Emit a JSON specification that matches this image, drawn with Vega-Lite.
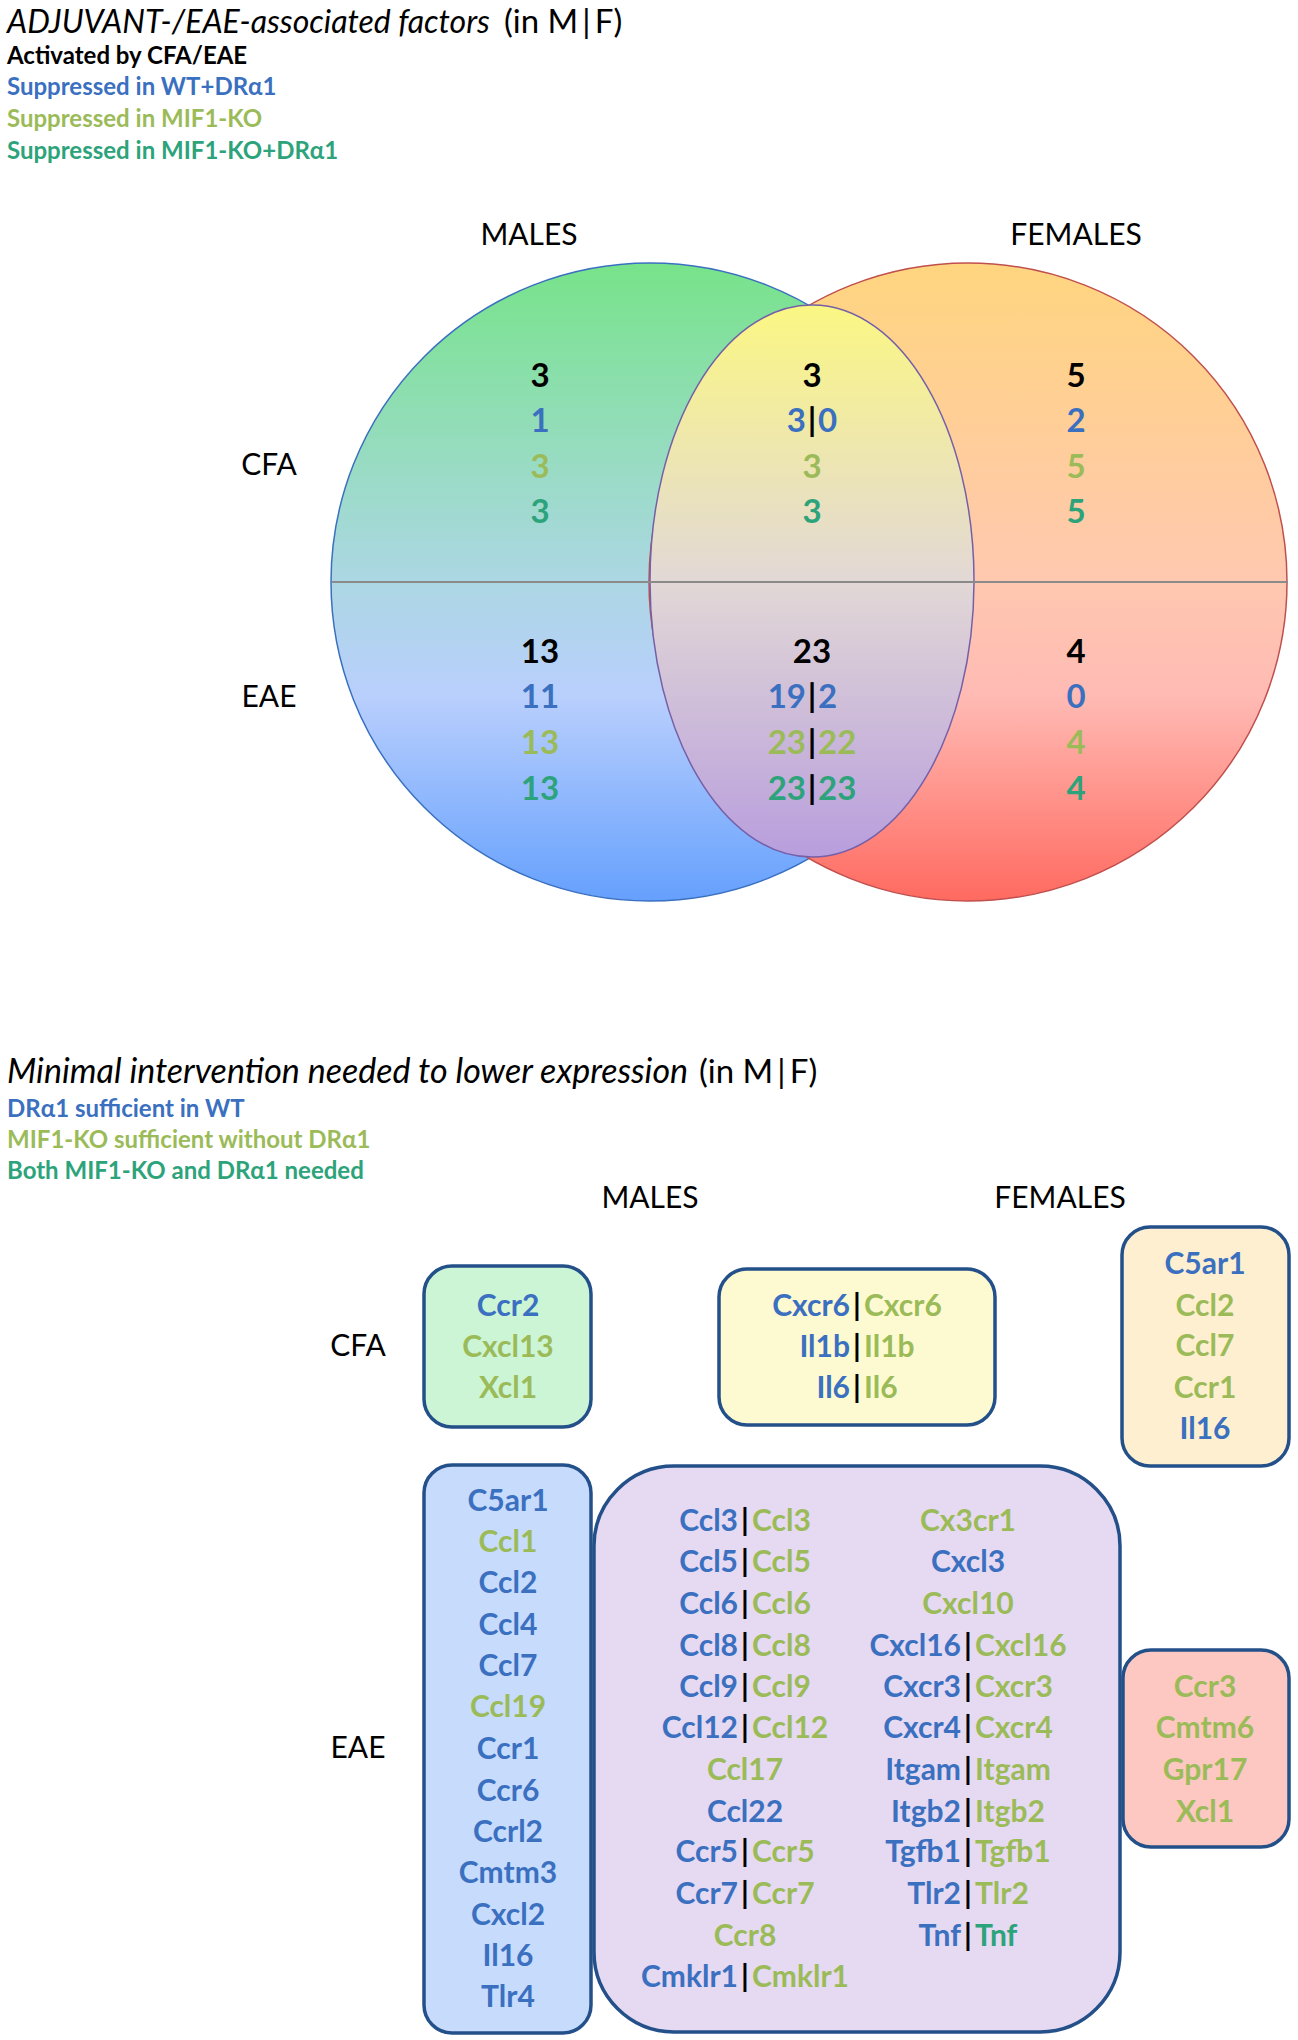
{
  "$schema": "https://vega.github.io/schema/vega-lite/v6.json",
  "width": 1298,
  "height": 2040,
  "autosize": {"type": "fit", "contains": "padding"},
  "padding": 0,
  "background": "white",
  "config": {"view": {"stroke": null}},
  "datasets": {
    "venn": [
      {"set": "M", "x": 650, "y": 582},
      {"set": "F", "x": 968, "y": 582},
      {"set": "MF", "x": 812, "y": 581}
    ],
    "titles": [
      {"x": 7, "y": 23, "t": "ADJUVANT-/EAE-associated factors", "s": "it1"},
      {"x": 504, "y": 23, "t": "(in M\u2009|\u2009F)", "s": "reg"},
      {"x": 7, "y": 1073, "t": "Minimal intervention needed to lower expression", "s": "it2"},
      {"x": 699, "y": 1073, "t": "(in M\u2009|\u2009F)", "s": "reg"}
    ],
    "legend": [
      {"x": 7, "y": 57, "t": "Activated by CFA/EAE", "c": "act"},
      {"x": 7, "y": 88, "t": "Suppressed in WT+DRα1", "c": "wt"},
      {"x": 7, "y": 120, "t": "Suppressed in MIF1-KO", "c": "ko"},
      {"x": 7, "y": 152, "t": "Suppressed in MIF1-KO+DRα1", "c": "both"},
      {"x": 7, "y": 1110, "t": "DRα1 sufficient in WT", "c": "wt"},
      {"x": 7, "y": 1141, "t": "MIF1-KO sufficient without DRα1", "c": "ko"},
      {"x": 7, "y": 1172, "t": "Both MIF1-KO and DRα1 needed", "c": "both"}
    ],
    "headers": [
      {"x": 529, "y": 236, "t": "MALES"},
      {"x": 1076, "y": 236, "t": "FEMALES"},
      {"x": 269, "y": 466, "t": "CFA"},
      {"x": 269, "y": 698, "t": "EAE"},
      {"x": 650, "y": 1199, "t": "MALES"},
      {"x": 1060, "y": 1199, "t": "FEMALES"},
      {"x": 358, "y": 1347, "t": "CFA"},
      {"x": 358, "y": 1749, "t": "EAE"}
    ],
    "nums": [
      {"x": 540, "y": 377, "t": "3", "c": "act"},
      {"x": 540, "y": 422, "t": "1", "c": "wt"},
      {"x": 540, "y": 468, "t": "3", "c": "ko"},
      {"x": 540, "y": 513, "t": "3", "c": "both"},
      {"x": 812, "y": 377, "t": "3", "c": "act"},
      {"x": 812, "y": 468, "t": "3", "c": "ko"},
      {"x": 812, "y": 513, "t": "3", "c": "both"},
      {"x": 1076, "y": 377, "t": "5", "c": "act"},
      {"x": 1076, "y": 422, "t": "2", "c": "wt"},
      {"x": 1076, "y": 468, "t": "5", "c": "ko"},
      {"x": 1076, "y": 513, "t": "5", "c": "both"},
      {"x": 540, "y": 653, "t": "13", "c": "act"},
      {"x": 540, "y": 698, "t": "11", "c": "wt"},
      {"x": 540, "y": 744, "t": "13", "c": "ko"},
      {"x": 540, "y": 790, "t": "13", "c": "both"},
      {"x": 812, "y": 653, "t": "23", "c": "act"},
      {"x": 1076, "y": 653, "t": "4", "c": "act"},
      {"x": 1076, "y": 698, "t": "0", "c": "wt"},
      {"x": 1076, "y": 744, "t": "4", "c": "ko"},
      {"x": 1076, "y": 790, "t": "4", "c": "both"}
    ],
    "numPairs": [
      {"x": 812, "y": 422, "l": "3", "r": "0", "lc": "wt", "rc": "wt"},
      {"x": 812, "y": 698, "l": "19", "r": "2", "lc": "wt", "rc": "wt"},
      {"x": 812, "y": 744, "l": "23", "r": "22", "lc": "ko", "rc": "ko"},
      {"x": 812, "y": 790, "l": "23", "r": "23", "lc": "both", "rc": "both"}
    ],
    "boxes": [
      {"box": "mc", "x": 424, "x2": 591, "y": 1266, "y2": 1427},
      {"box": "cc", "x": 719, "x2": 995, "y": 1269, "y2": 1425},
      {"box": "fc", "x": 1122, "x2": 1289, "y": 1227, "y2": 1466},
      {"box": "me", "x": 424, "x2": 591, "y": 1465, "y2": 2033},
      {"box": "ce", "x": 594, "x2": 1120, "y": 1466, "y2": 2032},
      {"box": "fe", "x": 1123, "x2": 1289, "y": 1650, "y2": 1847}
    ],
    "genes": [
      {"x": 508, "y": 1307, "t": "Ccr2", "c": "wt"},
      {"x": 508, "y": 1348, "t": "Cxcl13", "c": "ko"},
      {"x": 508, "y": 1389, "t": "Xcl1", "c": "ko"},
      {"x": 1205, "y": 1265, "t": "C5ar1", "c": "wt"},
      {"x": 1205, "y": 1307, "t": "Ccl2", "c": "ko"},
      {"x": 1205, "y": 1347, "t": "Ccl7", "c": "ko"},
      {"x": 1205, "y": 1389, "t": "Ccr1", "c": "ko"},
      {"x": 1205, "y": 1430, "t": "Il16", "c": "wt"},
      {"x": 508, "y": 1502, "t": "C5ar1", "c": "wt"},
      {"x": 508, "y": 1543, "t": "Ccl1", "c": "ko"},
      {"x": 508, "y": 1584, "t": "Ccl2", "c": "wt"},
      {"x": 508, "y": 1626, "t": "Ccl4", "c": "wt"},
      {"x": 508, "y": 1667, "t": "Ccl7", "c": "wt"},
      {"x": 508, "y": 1708, "t": "Ccl19", "c": "ko"},
      {"x": 508, "y": 1750, "t": "Ccr1", "c": "wt"},
      {"x": 508, "y": 1792, "t": "Ccr6", "c": "wt"},
      {"x": 508, "y": 1833, "t": "Ccrl2", "c": "wt"},
      {"x": 508, "y": 1874, "t": "Cmtm3", "c": "wt"},
      {"x": 508, "y": 1916, "t": "Cxcl2", "c": "wt"},
      {"x": 508, "y": 1957, "t": "Il16", "c": "wt"},
      {"x": 508, "y": 1998, "t": "Tlr4", "c": "wt"},
      {"x": 745, "y": 1771, "t": "Ccl17", "c": "ko"},
      {"x": 745, "y": 1813, "t": "Ccl22", "c": "wt"},
      {"x": 745, "y": 1937, "t": "Ccr8", "c": "ko"},
      {"x": 968, "y": 1522, "t": "Cx3cr1", "c": "ko"},
      {"x": 968, "y": 1563, "t": "Cxcl3", "c": "wt"},
      {"x": 968, "y": 1605, "t": "Cxcl10", "c": "ko"},
      {"x": 1205, "y": 1688, "t": "Ccr3", "c": "ko"},
      {"x": 1205, "y": 1729, "t": "Cmtm6", "c": "ko"},
      {"x": 1205, "y": 1771, "t": "Gpr17", "c": "ko"},
      {"x": 1205, "y": 1813, "t": "Xcl1", "c": "ko"}
    ],
    "genePairs": [
      {"x": 857, "y": 1307, "l": "Cxcr6", "r": "Cxcr6", "lc": "wt", "rc": "ko"},
      {"x": 857, "y": 1348, "l": "Il1b", "r": "Il1b", "lc": "wt", "rc": "ko"},
      {"x": 857, "y": 1389, "l": "Il6", "r": "Il6", "lc": "wt", "rc": "ko"},
      {"x": 745, "y": 1522, "l": "Ccl3", "r": "Ccl3", "lc": "wt", "rc": "ko"},
      {"x": 745, "y": 1563, "l": "Ccl5", "r": "Ccl5", "lc": "wt", "rc": "ko"},
      {"x": 745, "y": 1605, "l": "Ccl6", "r": "Ccl6", "lc": "wt", "rc": "ko"},
      {"x": 745, "y": 1647, "l": "Ccl8", "r": "Ccl8", "lc": "wt", "rc": "ko"},
      {"x": 745, "y": 1688, "l": "Ccl9", "r": "Ccl9", "lc": "wt", "rc": "ko"},
      {"x": 745, "y": 1729, "l": "Ccl12", "r": "Ccl12", "lc": "wt", "rc": "ko"},
      {"x": 745, "y": 1853, "l": "Ccr5", "r": "Ccr5", "lc": "wt", "rc": "ko"},
      {"x": 745, "y": 1895, "l": "Ccr7", "r": "Ccr7", "lc": "wt", "rc": "ko"},
      {"x": 745, "y": 1978, "l": "Cmklr1", "r": "Cmklr1", "lc": "wt", "rc": "ko"},
      {"x": 968, "y": 1647, "l": "Cxcl16", "r": "Cxcl16", "lc": "wt", "rc": "ko"},
      {"x": 968, "y": 1688, "l": "Cxcr3", "r": "Cxcr3", "lc": "wt", "rc": "ko"},
      {"x": 968, "y": 1729, "l": "Cxcr4", "r": "Cxcr4", "lc": "wt", "rc": "ko"},
      {"x": 968, "y": 1771, "l": "Itgam", "r": "Itgam", "lc": "wt", "rc": "ko"},
      {"x": 968, "y": 1813, "l": "Itgb2", "r": "Itgb2", "lc": "wt", "rc": "ko"},
      {"x": 968, "y": 1853, "l": "Tgfb1", "r": "Tgfb1", "lc": "wt", "rc": "ko"},
      {"x": 968, "y": 1895, "l": "Tlr2", "r": "Tlr2", "lc": "wt", "rc": "ko"},
      {"x": 968, "y": 1937, "l": "Tnf", "r": "Tnf", "lc": "wt", "rc": "both"}
    ]
  },
  "encoding": {
    "x": {"field": "x", "type": "quantitative", "scale": {"domain": [0, 1298], "nice": false, "zero": false}, "axis": null},
    "y": {"field": "y", "type": "quantitative", "scale": {"domain": [0, 2040], "nice": false, "zero": false, "reverse": true}, "axis": null}
  },
  "layer": [
    {
      "data": {"name": "venn"},
      "transform": [{"filter": "datum.set == 'M'"}],
      "mark": {"type": "point", "shape": "circle", "filled": true, "size": 407044, "opacity": 1, "strokeWidth": 1.5, "stroke": "#3a70c0",
        "fill": {"gradient": "linear", "x1": 0, "y1": 0, "x2": 0, "y2": 1, "stops": [
          {"offset": 0, "color": "#77e38a"}, {"offset": 0.5, "color": "#acd7e4"}, {"offset": 0.68, "color": "#b9cffd"}, {"offset": 1, "color": "#65a0fd"}]}}
    },
    {
      "data": {"name": "venn"},
      "transform": [{"filter": "datum.set == 'F'"}],
      "mark": {"type": "point", "shape": "circle", "filled": true, "size": 407044, "opacity": 1, "strokeWidth": 1.5, "stroke": "#c0504d",
        "fill": {"gradient": "linear", "x1": 0, "y1": 0, "x2": 0, "y2": 1, "stops": [
          {"offset": 0, "color": "#ffd57f"}, {"offset": 0.5, "color": "#ffc8b0"}, {"offset": 0.68, "color": "#ffbab4"}, {"offset": 1, "color": "#ff6a60"}]}}
    },
    {
      "data": {"name": "venn"},
      "transform": [{"filter": "datum.set == 'MF'"}],
      "mark": {"type": "point", "shape": "M -0.587 0 A 0.587 1 0 1 1 0.587 0 A 0.587 1 0 1 1 -0.587 0 Z", "filled": true, "size": 304704, "opacity": 1, "strokeWidth": 1.5, "stroke": "#7560a8",
        "fill": {"gradient": "linear", "x1": 0, "y1": 0, "x2": 0, "y2": 1, "stops": [
          {"offset": 0, "color": "#fbf783"}, {"offset": 0.5, "color": "#e2d8d6"}, {"offset": 1, "color": "#b89edd"}]}}
    },
    {
      "data": {"values": [{"x": 332, "x2": 1288, "y": 582}]},
      "mark": {"type": "rule", "color": "#8a8a8a", "strokeWidth": 2},
      "encoding": {"x2": {"field": "x2"}}
    },
    {
      "data": {"name": "titles"},
      "transform": [{"filter": "datum.s == 'it1'"}],
      "mark": {"type": "text", "font": "Lato", "fontStyle": "italic", "fontSize": 32, "align": "left", "baseline": "middle", "color": "black"},
      "encoding": {"text": {"field": "t"}}
    },
    {
      "data": {"name": "titles"},
      "transform": [{"filter": "datum.s == 'it2'"}],
      "mark": {"type": "text", "font": "Lato", "fontStyle": "italic", "fontSize": 34, "align": "left", "baseline": "middle", "color": "black"},
      "encoding": {"text": {"field": "t"}}
    },
    {
      "data": {"name": "titles"},
      "transform": [{"filter": "datum.s == 'reg'"}],
      "mark": {"type": "text", "font": "Lato", "fontSize": 33, "align": "left", "baseline": "middle", "color": "black"},
      "encoding": {"text": {"field": "t"}}
    },
    {
      "data": {"name": "legend"},
      "mark": {"type": "text", "font": "Lato", "fontWeight": "bold", "fontSize": 24, "align": "left", "baseline": "middle"},
      "encoding": {"text": {"field": "t"},
        "color": {"field": "c", "type": "nominal", "legend": null, "scale": {"domain": ["act", "wt", "ko", "both"], "range": ["#000000", "#3a70bf", "#9bbb59", "#2ca37a"]}}}
    },
    {
      "data": {"name": "headers"},
      "mark": {"type": "text", "font": "Lato", "fontSize": 30, "align": "center", "baseline": "middle", "color": "black"},
      "encoding": {"text": {"field": "t"}}
    },
    {
      "data": {"name": "nums"},
      "mark": {"type": "text", "font": "Lato", "fontWeight": "bold", "fontSize": 33, "align": "center", "baseline": "middle"},
      "encoding": {"text": {"field": "t"},
        "color": {"field": "c", "type": "nominal", "legend": null, "scale": {"domain": ["act", "wt", "ko", "both"], "range": ["#000000", "#3a70bf", "#9bbb59", "#2ca37a"]}}}
    },
    {
      "data": {"name": "numPairs"},
      "mark": {"type": "text", "font": "Lato", "fontWeight": "bold", "fontSize": 33, "align": "right", "baseline": "middle", "dx": -6},
      "encoding": {"text": {"field": "l"},
        "color": {"field": "lc", "type": "nominal", "legend": null, "scale": {"domain": ["act", "wt", "ko", "both"], "range": ["#000000", "#3a70bf", "#9bbb59", "#2ca37a"]}}}
    },
    {
      "data": {"name": "numPairs"},
      "mark": {"type": "text", "font": "Lato", "fontWeight": "bold", "fontSize": 33, "align": "left", "baseline": "middle", "dx": 6},
      "encoding": {"text": {"field": "r"},
        "color": {"field": "rc", "type": "nominal", "legend": null, "scale": {"domain": ["act", "wt", "ko", "both"], "range": ["#000000", "#3a70bf", "#9bbb59", "#2ca37a"]}}}
    },
    {
      "data": {"name": "numPairs"},
      "mark": {"type": "text", "font": "Lato", "fontWeight": "bold", "fontSize": 33, "align": "center", "baseline": "middle", "text": "|", "color": "black"}
    },
    {
      "data": {"name": "boxes"},
      "transform": [{"filter": "datum.box != 'ce'"}],
      "mark": {"type": "rect", "cornerRadius": 28, "stroke": "#24508a", "strokeWidth": 3.5},
      "encoding": {"x2": {"field": "x2"}, "y2": {"field": "y2"},
        "fill": {"field": "box", "type": "nominal", "legend": null, "scale": {"domain": ["mc", "cc", "fc", "me", "ce", "fe"], "range": ["#ccf5d6", "#fdfad2", "#fdefd0", "#c7dbfd", "#e6d9f2", "#fdc8c1"]}}}
    },
    {
      "data": {"name": "boxes"},
      "transform": [{"filter": "datum.box == 'ce'"}],
      "mark": {"type": "rect", "cornerRadius": 80, "stroke": "#24508a", "strokeWidth": 3.5},
      "encoding": {"x2": {"field": "x2"}, "y2": {"field": "y2"},
        "fill": {"field": "box", "type": "nominal", "legend": null, "scale": {"domain": ["mc", "cc", "fc", "me", "ce", "fe"], "range": ["#ccf5d6", "#fdfad2", "#fdefd0", "#c7dbfd", "#e6d9f2", "#fdc8c1"]}}}
    },
    {
      "data": {"name": "genes"},
      "mark": {"type": "text", "font": "Lato", "fontWeight": "bold", "fontSize": 30, "align": "center", "baseline": "middle"},
      "encoding": {"text": {"field": "t"},
        "color": {"field": "c", "type": "nominal", "legend": null, "scale": {"domain": ["act", "wt", "ko", "both"], "range": ["#000000", "#3a70bf", "#9bbb59", "#2ca37a"]}}}
    },
    {
      "data": {"name": "genePairs"},
      "mark": {"type": "text", "font": "Lato", "fontWeight": "bold", "fontSize": 30, "align": "right", "baseline": "middle", "dx": -7},
      "encoding": {"text": {"field": "l"},
        "color": {"field": "lc", "type": "nominal", "legend": null, "scale": {"domain": ["act", "wt", "ko", "both"], "range": ["#000000", "#3a70bf", "#9bbb59", "#2ca37a"]}}}
    },
    {
      "data": {"name": "genePairs"},
      "mark": {"type": "text", "font": "Lato", "fontWeight": "bold", "fontSize": 30, "align": "left", "baseline": "middle", "dx": 7},
      "encoding": {"text": {"field": "r"},
        "color": {"field": "rc", "type": "nominal", "legend": null, "scale": {"domain": ["act", "wt", "ko", "both"], "range": ["#000000", "#3a70bf", "#9bbb59", "#2ca37a"]}}}
    },
    {
      "data": {"name": "genePairs"},
      "mark": {"type": "text", "font": "Lato", "fontWeight": "bold", "fontSize": 30, "align": "center", "baseline": "middle", "text": "|", "color": "black"}
    }
  ]
}
